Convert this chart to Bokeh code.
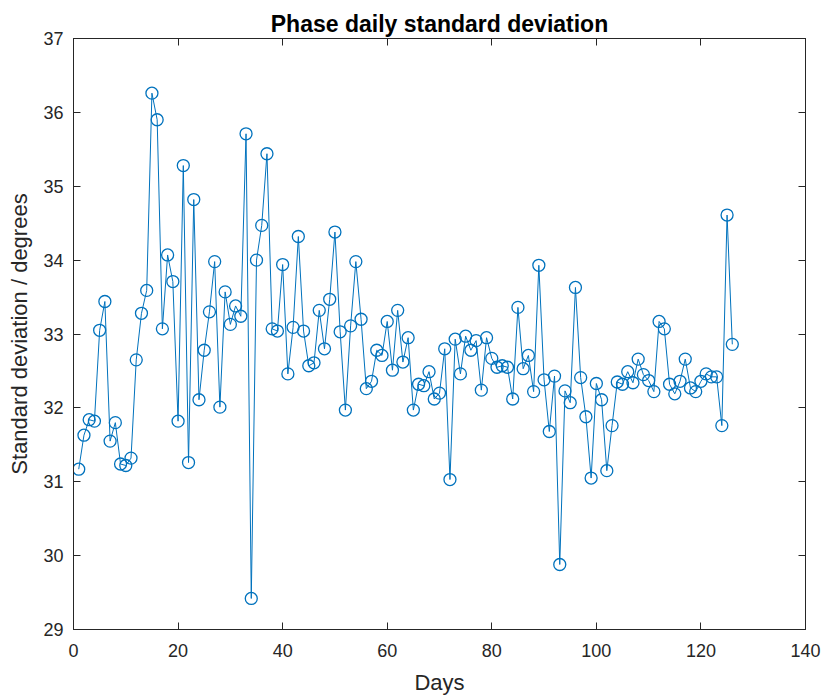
from bokeh.plotting import figure
from bokeh.models import LinearAxis, Range1d, FixedTicker
from bokeh.embed import file_html
from bokeh.resources import INLINE

days = list(range(1, 127))
std_dev = [
    31.17, 31.63, 31.84, 31.82, 33.05, 33.44, 31.55, 31.80, 31.24, 31.22,
    31.32, 32.65, 33.28, 33.59, 36.26, 35.90, 33.07, 34.07, 33.71, 31.82,
    35.28, 31.26, 34.82, 32.11, 32.78, 33.30, 33.98, 32.01, 33.57, 33.13,
    33.38, 33.24, 35.71, 29.42, 34.00, 34.47, 35.44, 33.07, 33.04, 33.94,
    32.46, 33.09, 34.32, 33.04, 32.57, 32.61, 33.32, 32.80, 33.47, 34.38,
    33.03, 31.97, 33.11, 33.98, 33.20, 32.26, 32.36, 32.78, 32.71, 33.17,
    32.51, 33.32, 32.62, 32.95, 31.97, 32.32, 32.30, 32.49, 32.12, 32.20,
    32.80, 31.03, 32.93, 32.46, 32.97, 32.78, 32.91, 32.24, 32.95, 32.67,
    32.55, 32.57, 32.55, 32.12, 33.36, 32.53, 32.71, 32.22, 33.93, 32.38,
    31.68, 32.43, 29.88, 32.23, 32.07, 33.63, 32.41, 31.88, 31.05, 32.33,
    32.11, 31.15, 31.76, 32.35, 32.32, 32.49, 32.34, 32.66, 32.45, 32.37,
    32.22, 33.17, 33.07, 32.32, 32.19, 32.36, 32.66, 32.27, 32.22, 32.36,
    32.46, 32.42, 32.42, 31.76, 34.61, 32.86,
]
x_ticks = [0, 20, 40, 60, 80, 100, 120, 140]
y_ticks = [29, 30, 31, 32, 33, 34, 35, 36, 37]

FONT = "Liberation Sans"
DARK = "#262626"
BLUE = "#0072BD"

p = figure(
    width=826, height=697,
    frame_width=732, frame_height=591,
    min_border_left=73, min_border_right=21, min_border_top=38, min_border_bottom=68,
    x_range=Range1d(0, 140), y_range=Range1d(29, 37),
    output_backend="svg", toolbar_location=None,
    title="Phase daily standard deviation",
)
p.xgrid.visible = False
p.ygrid.visible = False
p.outline_line_color = DARK
p.outline_line_width = 1
p.background_fill_color = "white"
p.border_fill_color = "white"

p.title.align = "center"
p.title.text_font = FONT
p.title.text_font_size = "23px"
p.title.text_font_style = "bold"
p.title.text_color = "black"
p.title.offset = 0
p.title.standoff = 4

def style_axis(ax, show_labels=True):
    ax.axis_line_color = DARK
    ax.major_tick_line_color = DARK
    ax.minor_tick_line_color = None
    ax.major_tick_in = 7
    ax.major_tick_out = 0
    ax.major_label_text_font = FONT
    ax.major_label_text_color = DARK
    ax.major_label_text_font_size = "18px"
    ax.axis_label_text_font = FONT
    ax.axis_label_text_font_size = "22px"
    ax.axis_label_text_font_style = "normal"
    ax.axis_label_text_color = DARK
    if not show_labels:
        ax.major_label_overrides = {t: "" for t in ax.ticker.ticks}
        ax.major_label_standoff = 0

p.xaxis.ticker = FixedTicker(ticks=x_ticks)
p.yaxis.ticker = FixedTicker(ticks=y_ticks)
style_axis(p.xaxis[0])
style_axis(p.yaxis[0])
p.xaxis.axis_label = "Days"
p.yaxis.axis_label = "Standard deviation / degrees"
p.xaxis.major_label_standoff = 14
p.yaxis.major_label_standoff = 10
p.xaxis.axis_label_standoff = 10
p.yaxis.axis_label_standoff = 8

top = LinearAxis(ticker=FixedTicker(ticks=x_ticks))
style_axis(top, False)
p.add_layout(top, "above")
right = LinearAxis(ticker=FixedTicker(ticks=y_ticks))
style_axis(right, False)
p.add_layout(right, "right")

p.line(days, std_dev, line_color=BLUE, line_width=1)
p.scatter(days, std_dev, marker="circle", size=12, fill_color=None,
          line_color=BLUE, line_width=1.3)

open("out.html", "w").write(file_html(p, INLINE))
